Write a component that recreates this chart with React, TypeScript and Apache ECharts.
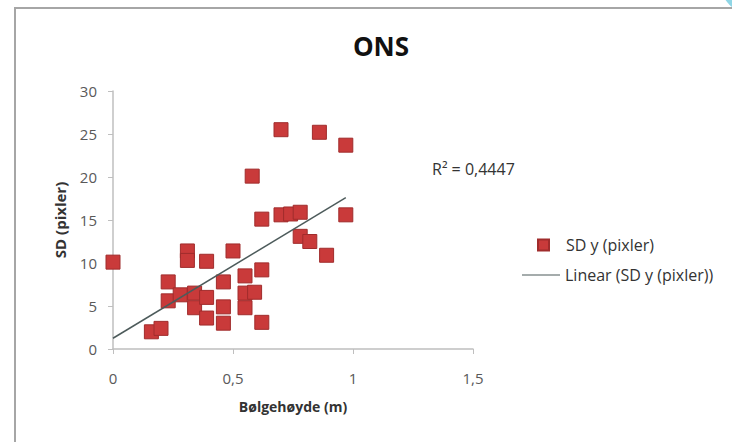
import React, { useEffect, useRef } from "react";
import * as echarts from "echarts";

const waveHeight = [0, 0.16, 0.2, 0.23, 0.23, 0.28, 0.31, 0.31, 0.34, 0.34, 0.39, 0.39, 0.39, 0.46, 0.46, 0.46, 0.5, 0.55, 0.55, 0.55, 0.59, 0.58, 0.62, 0.62, 0.62, 0.7, 0.7, 0.74, 0.78, 0.78, 0.82, 0.86, 0.89, 0.97, 0.97];
const sdY = [10.1, 2.0, 2.4, 7.8, 5.6, 6.3, 11.4, 10.3, 6.5, 4.8, 10.2, 6.0, 3.6, 7.8, 4.9, 3.0, 11.4, 8.5, 6.5, 4.8, 6.6, 20.1, 9.2, 3.1, 15.1, 25.5, 15.6, 15.7, 15.9, 13.1, 12.5, 25.2, 10.9, 23.7, 15.6];
const trendX = [0, 0.97];
const trendY = [1.25, 17.6];
const seriesName = "SD y (pixler)";
const trendName = "Linear (SD y (pixler))";
const titleText = "ONS";
const xName = "Bølgehøyde (m)";
const yName = "SD (pixler)";
const rSquared = "R² = 0,4447";

const FONT = "Open Sans";

export default function App() {
  const ref = useRef<HTMLDivElement>(null);
  useEffect(() => {
    document.body.style.margin = "0";
    const chart = echarts.init(ref.current!, null, { renderer: "svg" });
    const scatterData = waveHeight.map((x, i) => [x, sdY[i]]);
    const trendData = trendX.map((x, i) => [x, trendY[i]]);
    chart.setOption({
      animation: false,
      backgroundColor: "#ffffff",
      title: {
        text: titleText,
        left: 376,
        top: 28,
        textAlign: "center",
        textStyle: { fontFamily: FONT, fontSize: 26, fontWeight: "bold", color: "#111" },
      },
      grid: { left: 113, right: 259, top: 91, bottom: 93 },
      xAxis: {
        type: "value",
        min: 0,
        max: 1.5,
        interval: 0.5,
        name: xName,
        nameLocation: "middle",
        nameGap: 50,
        nameTextStyle: { fontFamily: FONT, fontSize: 14, fontWeight: "bold", color: "#333" },
        splitLine: { show: false },
        axisLine: { show: true, lineStyle: { color: "#bfbfbf", width: 1.5 } },
        axisTick: { show: true, length: 5, lineStyle: { color: "#bfbfbf" } },
        axisLabel: {
          margin: 21,
          fontFamily: FONT,
          fontSize: 15,
          color: "#595959",
          formatter: (v: number) => String(v).replace(".", ","),
        },
      },
      yAxis: {
        type: "value",
        min: 0,
        max: 30,
        interval: 5,
        name: yName,
        nameLocation: "middle",
        nameGap: 46,
        nameTextStyle: { fontFamily: FONT, fontSize: 15, fontWeight: "bold", color: "#333" },
        splitLine: { show: false },
        axisLine: { show: true, lineStyle: { color: "#bfbfbf", width: 1.5 } },
        axisTick: { show: true, length: 5, lineStyle: { color: "#bfbfbf" } },
        axisLabel: { margin: 16, fontFamily: FONT, fontSize: 15, color: "#595959" },
      },
      legend: [
        {
          data: [{ name: seriesName, icon: "rect" }],
          left: 532,
          top: 232,
          itemWidth: 11,
          itemHeight: 11,
          textStyle: { fontFamily: FONT, fontSize: 16, color: "#333", padding: [0, 0, 0, 12] },
        },
        {
          data: [{ name: trendName, icon: "path://M0,0 L40,0 L40,1 L0,1 Z" }],
          left: 517,
          top: 262,
          itemWidth: 38,
          itemHeight: 1.3,
          textStyle: { fontFamily: FONT, fontSize: 16, color: "#333" },
        },
      ],
      graphic: [
        {
          type: "rect",
          shape: { x: 15, y: 8, width: 900, height: 600 },
          style: { fill: "none", stroke: "#a6a6a6", lineWidth: 2 },
          silent: true,
        },
        {
          type: "circle",
          shape: { cx: 752, cy: -18, r: 32 },
          style: { fill: "#8fd6e6" },
          silent: true,
        },
        {
          type: "text",
          left: 432,
          top: 161,
          style: { text: rSquared, fontFamily: FONT, fontSize: 16, fill: "#333" },
        },
      ],
      series: [
        {
          name: seriesName,
          type: "scatter",
          data: scatterData,
          symbol: "rect",
          symbolSize: 14,
          itemStyle: { color: "#c93a3a", borderColor: "#a02c2c", borderWidth: 1, opacity: 1 },
          z: 2,
        },
        {
          name: trendName,
          type: "line",
          data: trendData,
          symbol: "none",
          itemStyle: { color: "#4d5b5b" },
          lineStyle: { color: "#4d5b5b", width: 1.5 },
          z: 3,
        },
      ],
    });
    return () => chart.dispose();
  }, []);
  return (
    <div
      ref={ref}
      style={{ position: "absolute", left: 0, top: 0, width: 732, height: 442 }}
    />
  );
}
